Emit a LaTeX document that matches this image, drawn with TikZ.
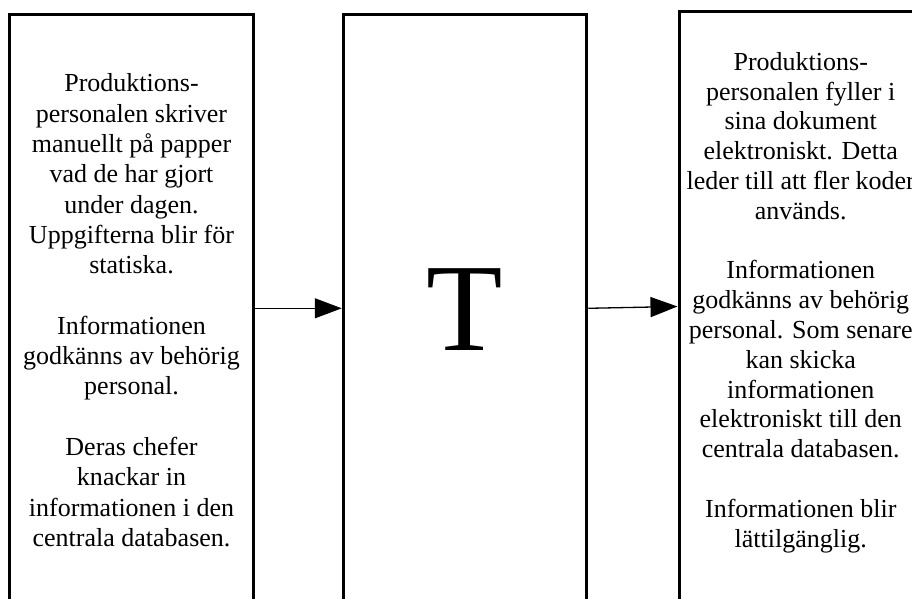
\documentclass[tikz,border=0pt]{standalone}
\usepackage{fontspec}
\setmainfont{Liberation Serif}
\usetikzlibrary{arrows.meta}
\begin{document}
\begin{tikzpicture}[x=1pt,y=-1pt,
  box/.style={draw, line width=3pt, minimum width=243.5pt, inner sep=0pt},
  arr/.style={-{Triangle[length=27pt,width=20pt]}, line width=1.3pt},
  txtl/.style={align=center, inner sep=0pt, anchor=north, font=\fontsize{26}{30.3}\selectfont},
  txtr/.style={align=center, inner sep=0pt, anchor=north, font=\fontsize{26}{29.8}\selectfont}]
\useasboundingbox (0,0) rectangle (912,599);
\clip (0,0) rectangle (912,599);
\node[box, minimum height=587.6pt] (left) at (131.5,308.3) {};
\node[box, minimum height=587.6pt] (mid) at (465,308.3) {};
\node[box, minimum height=590pt] (right) at (800.75,306.5) {};
\node[txtl] (ltext) at (131.5,73.7) {Produktions-\\personalen skriver\\manuellt på papper\\vad de har gjort\\under dagen.\\Uppgifterna blir för\\statiska.\\[30.3pt]Informationen\\godkänns av behörig\\personal.\\[30.3pt]Deras chefer\\knackar in\\informationen i den\\centrala databasen.};
\node[txtr] (rtext) at (800.75,52) {Produktions-\\personalen fyller i\\sina dokument\\elektroniskt. Detta\\leder till att fler koder\\används.\\[29.8pt]Informationen\\godkänns av behörig\\personal. Som senare\\kan skicka\\informationen\\elektroniskt till den\\centrala databasen.\\[29.8pt]Informationen blir\\lättilgänglig.};
\node[anchor=base, inner sep=0pt, font=\fontsize{125}{130}\selectfont] (T) at (465,350) {T};
\draw[arr] (left.east) -- (mid.west);
\draw[arr] (mid.east) -- (right.west);
\end{tikzpicture}
\end{document}
